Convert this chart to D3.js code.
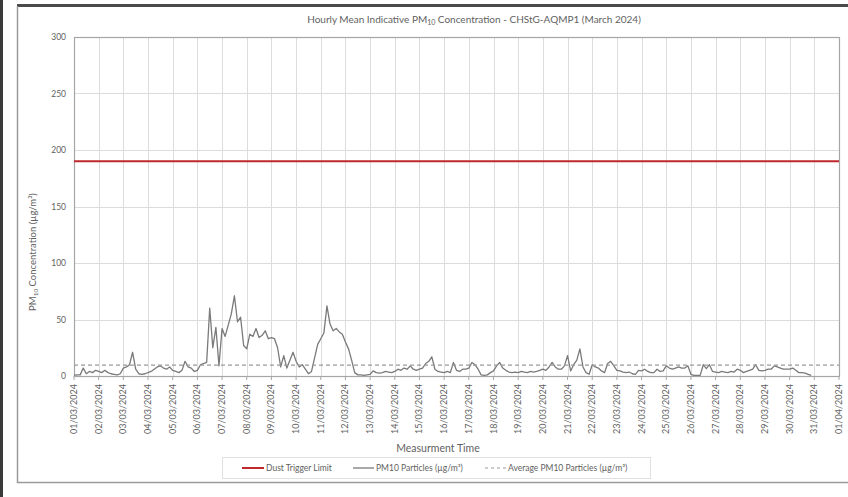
<!DOCTYPE html>
<html>
<head>
<meta charset="utf-8">
<script src="https://cdn.jsdelivr.net/npm/d3@7/dist/d3.min.js"></script>
<style>
  html, body { margin: 0; padding: 0; background: #fff; }
  svg { display: block; }
  text { font-family: Lato, "Open Sans", "DejaVu Sans Condensed", sans-serif; fill: #5f5f5f; }
</style>
</head>
<body>
<svg id="chart" width="848" height="497"></svg>
<script>
// Hourly PM10 record, sampled every 3 hours from 01/03/2024 00:00 (µg/m³)
const pm10Values = [
  // 01/03
  0.5, 1, 1, 7, 2, 4, 3, 5,
  // 02/03
  4, 3, 5, 3, 2, 1.5, 1, 2,
  // 03/03
  7, 8, 10, 21, 6, 2, 1.5, 2,
  // 04/03
  3, 4, 6, 8, 9, 7, 6, 8,
  // 05/03
  5, 4, 3, 5, 13, 8, 7, 4,
  // 06/03
  5, 10, 11, 12, 60, 25, 43, 9,
  // 07/03
  42, 35, 45, 55, 71, 48, 52, 27,
  // 08/03
  24, 37, 35, 42, 34, 36, 40, 33,
  // 09/03
  34, 33, 25, 8, 18, 7, 14, 21,
  // 10/03
  13, 8, 10, 6, 2, 4, 16, 28,
  // 11/03
  33, 38, 62, 46, 40, 42, 39, 37,
  // 12/03
  30, 24, 14, 3, 1, 1, 0.5, 1,
  // 13/03
  1.5, 4.5, 3, 2.5, 3, 4, 3.5, 3,
  // 14/03
  4, 6, 5, 7, 6, 9, 6, 5,
  // 15/03
  6, 7, 11, 13, 17, 6, 4, 3.5,
  // 16/03
  3, 4, 3, 12, 5, 4, 6, 6,
  // 17/03
  7, 12, 10, 6, 1, 0.5, 1, 3,
  // 18/03
  4.5, 9, 12, 7, 5, 3.5, 3, 3.5,
  // 19/03
  3, 4, 3.5, 3, 4, 3.5, 4, 5,
  // 20/03
  6, 5, 8, 12, 8, 6, 6, 9,
  // 21/03
  18, 4.5, 10, 14, 24, 8, 3, 1.5,
  // 22/03
  10, 8, 7, 4.5, 3, 11, 13, 9,
  // 23/03
  5, 4.5, 3.5, 3, 3.5, 2, 1.5, 5,
  // 24/03
  4.5, 6, 4, 3, 3, 6, 4, 4.5,
  // 25/03
  9, 7, 6, 7, 8, 7, 7, 9,
  // 26/03
  1.5, 0.5, 0.5, 0.5, 10, 6.5, 10, 4,
  // 27/03
  3.5, 3, 4, 3.5, 3, 4, 3.5, 6,
  // 28/03
  5, 3, 4, 5, 6, 10, 5, 4.5,
  // 29/03
  5, 6, 6, 9, 8, 7, 6, 6,
  // 30/03
  6, 7, 5, 3, 3, 2.5, 1.5, 0.5
];
const sampleStepHours = 3;
const periodStart = new Date(Date.UTC(2024, 2, 1));
const periodEnd = new Date(Date.UTC(2024, 3, 1));

const dustTriggerLimit = [190];
const averagePm10 = [9.7];

const yTicks = [0, 50, 100, 150, 200, 250, 300];
const xTickLabels = [
  "01/03/2024", "02/03/2024", "03/03/2024", "04/03/2024", "05/03/2024", "06/03/2024",
  "07/03/2024", "08/03/2024", "09/03/2024", "10/03/2024", "11/03/2024", "12/03/2024",
  "13/03/2024", "14/03/2024", "15/03/2024", "16/03/2024", "17/03/2024", "18/03/2024",
  "19/03/2024", "20/03/2024", "21/03/2024", "22/03/2024", "23/03/2024", "24/03/2024",
  "25/03/2024", "26/03/2024", "27/03/2024", "28/03/2024", "29/03/2024", "30/03/2024",
  "31/03/2024", "01/04/2024"
];
const legendLabels = ["Dust Trigger Limit", "PM10 Particles (µg/m³)", "Average PM10 Particles (µg/m³)"];

const svg = d3.select("#chart");
const W = 848, H = 497;
const plot = { left: 74, right: 839, top: 37, bottom: 376 };

// page frame
svg.append("rect").attr("x", 0).attr("y", 0).attr("width", 3).attr("height", H).attr("fill", "#3a3a3a");
svg.append("rect").attr("x", 17).attr("y", 4).attr("width", W - 17).attr("height", 3).attr("fill", "#4a4a4a");
svg.append("path")
  .attr("d", `M17.5,6 V482.5 H${W}`)
  .attr("fill", "none").attr("stroke", "#9a9a9a").attr("stroke-width", 1.5);

const x = d3.scaleUtc().domain([periodStart, periodEnd]).range([plot.left, plot.right]);
const y = d3.scaleLinear().domain([0, 300]).range([plot.bottom, plot.top]);
const dayTicks = d3.utcDay.range(periodStart, d3.utcDay.offset(periodEnd, 1));

// gridlines
const g = svg.append("g");
g.selectAll(".vgrid").data(dayTicks).join("line")
  .attr("x1", d => Math.round(x(d)) + 0.5).attr("x2", d => Math.round(x(d)) + 0.5)
  .attr("y1", plot.top).attr("y2", plot.bottom)
  .attr("stroke", "#dcdcdc").attr("stroke-width", 1);
g.selectAll(".hgrid").data(yTicks).join("line")
  .attr("x1", plot.left).attr("x2", plot.right)
  .attr("y1", d => Math.round(y(d)) + 0.5).attr("y2", d => Math.round(y(d)) + 0.5)
  .attr("stroke", "#dcdcdc").attr("stroke-width", 1);

// plot border
svg.append("rect")
  .attr("x", plot.left + 0.5).attr("y", plot.top + 0.5)
  .attr("width", plot.right - plot.left).attr("height", plot.bottom - plot.top)
  .attr("fill", "none").attr("stroke", "#a6a6a6").attr("stroke-width", 1.2);

// y axis labels
svg.append("g").selectAll("text").data(yTicks).join("text")
  .attr("x", 66).attr("y", d => y(d) + 3)
  .attr("text-anchor", "end").attr("font-size", 8.5).attr("fill", "#6a6a6a")
  .text(d => d);

// x axis tick marks and labels
svg.append("g").selectAll("line").data(dayTicks).join("line")
  .attr("x1", d => x(d)).attr("x2", d => x(d))
  .attr("y1", plot.bottom).attr("y2", plot.bottom + 4)
  .attr("stroke", "#a6a6a6");
svg.append("g").selectAll("text").data(xTickLabels).join("text")
  .attr("transform", (d, i) => `translate(${x(dayTicks[i]) + 3},${plot.bottom + 8}) rotate(-90)`)
  .attr("text-anchor", "end").attr("font-size", 9).attr("fill", "#6a6a6a")
  .text(d => d);

// series
const series = pm10Values.map((v, i) => ({ t: d3.utcHour.offset(periodStart, i * sampleStepHours), v }));
const line = d3.line().x(d => x(d.t)).y(d => y(d.v));
svg.append("path").datum(series)
  .attr("d", line)
  .attr("fill", "none").attr("stroke", "#7a7a7a").attr("stroke-width", 1.3)
  .attr("stroke-linejoin", "round");

svg.append("g").selectAll("line").data(averagePm10).join("line")
  .attr("x1", plot.left).attr("x2", plot.right)
  .attr("y1", d => y(d)).attr("y2", d => y(d))
  .attr("stroke", "#9a9a9a").attr("stroke-width", 1.2).attr("stroke-dasharray", "4,3");

svg.append("g").selectAll("line").data(dustTriggerLimit).join("line")
  .attr("x1", plot.left).attr("x2", plot.right)
  .attr("y1", d => y(d)).attr("y2", d => y(d))
  .attr("stroke", "#c0282d").attr("stroke-width", 2);

// title
const title = svg.append("text").attr("x", 474).attr("y", 23).attr("text-anchor", "middle").attr("font-size", 10);
title.append("tspan").text("Hourly Mean Indicative PM");
title.append("tspan").attr("font-size", 7).attr("dy", 2).text("10");
title.append("tspan").attr("dy", -2).text(" Concentration - CHStG-AQMP1 (March 2024)");

// y axis title
const yTitle = svg.append("text")
  .attr("transform", "translate(36,252) rotate(-90)")
  .attr("text-anchor", "middle").attr("font-size", 9.5);
yTitle.append("tspan").text("PM");
yTitle.append("tspan").attr("font-size", 6.5).attr("dy", 2).text("10");
yTitle.append("tspan").attr("dy", -2).text(" Concentration (µg/m³)");

// x axis title
svg.append("text").attr("x", 438).attr("y", 452).attr("text-anchor", "middle")
  .attr("font-size", 10.5).text("Measurment Time");

// legend
const legend = svg.append("g");
legend.append("rect").attr("x", 222.5).attr("y", 457.5).attr("width", 428).attr("height", 21)
  .attr("fill", "#fff").attr("stroke", "#e0e0e0");
const legendItems = [
  { x0: 242, x1: 264, tx: 266, stroke: "#c0282d", width: 2, dash: null },
  { x0: 353, x1: 374, tx: 376, stroke: "#7a7a7a", width: 1.3, dash: null },
  { x0: 485, x1: 506, tx: 508, stroke: "#9a9a9a", width: 1.2, dash: "3,3" }
];
legendItems.forEach((it, i) => {
  legend.append("line").attr("x1", it.x0).attr("x2", it.x1).attr("y1", 468).attr("y2", 468)
    .attr("stroke", it.stroke).attr("stroke-width", it.width).attr("stroke-dasharray", it.dash);
  legend.append("text").attr("x", it.tx).attr("y", 471).attr("font-size", 8.5).text(legendLabels[i]);
});
</script>
</body>
</html>
